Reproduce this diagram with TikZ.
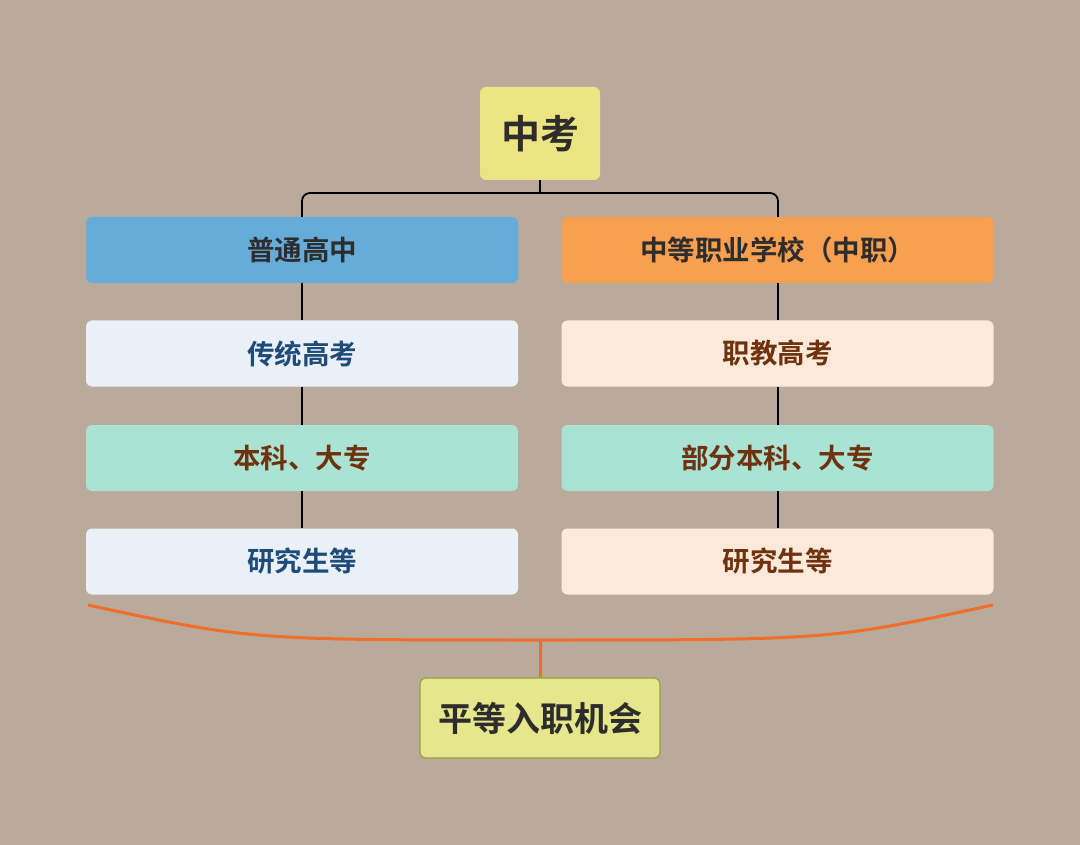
\documentclass[tikz,border=0pt]{standalone}
\usepackage{fontspec}
\setmainfont{Noto Sans CJK SC}[BoldFont={Noto Sans CJK SC Bold}]
\definecolor{bg}{RGB}{186,170,156}
\definecolor{yel}{RGB}{236,228,130}
\definecolor{blu}{RGB}{102,172,216}
\definecolor{org}{RGB}{248,160,80}
\definecolor{lblu}{RGB}{233,240,248}
\definecolor{lorg}{RGB}{253,233,218}
\definecolor{teal}{RGB}{170,226,212}
\definecolor{tblu}{RGB}{30,75,120}
\definecolor{tbrn}{RGB}{110,50,15}
\definecolor{tdark}{RGB}{45,45,45}
\definecolor{brace}{RGB}{240,110,40}
\definecolor{olive}{RGB}{150,160,60}
\definecolor{byel}{RGB}{230,230,140}
\begin{document}
\begin{tikzpicture}[x=1pt,y=-1pt,
 box/.style={rounded corners=6pt,minimum width=432pt,minimum height=66pt,inner sep=0pt,font=\fontsize{27.5}{28}\selectfont\bfseries},
 conn/.style={line width=1.8pt,black}]
\fill[bg] (0,0) rectangle (1080,845);
\node[box,fill=yel,minimum width=120pt,minimum height=93pt,text=tdark,font=\fontsize{39}{39}\selectfont\bfseries] (zk) at (540,133.5) {中考};
\node[box,fill=blu,text=tdark] (l1) at (302,250) {普通高中};
\node[box,fill=org,text=tdark] (r1) at (777.5,250) {中等职业学校（中职）};
\node[box,fill=lblu,text=tblu] (l2) at (302,353.5) {传统高考};
\node[box,fill=lorg,text=tbrn] (r2) at (777.5,353.5) {职教高考};
\node[box,fill=teal,text=tbrn] (l3) at (302,458) {本科、大专};
\node[box,fill=teal,text=tbrn] (r3) at (777.5,458) {部分本科、大专};
\node[box,fill=lblu,text=tblu] (l4) at (302,561.5) {研究生等};
\node[box,fill=lorg,text=tbrn] (r4) at (777.5,561.5) {研究生等};
\node[box,fill=byel,draw=olive,line width=1.2pt,minimum width=240pt,minimum height=80pt,text=tdark,font=\fontsize{34}{34}\selectfont\bfseries] (eq) at (540,718) {平等入职机会};
\coordinate (jn) at (540,193);
\draw[conn] (zk.south) -- (jn);
\draw[conn,rounded corners=8pt] (l1.north) -- (302,193) -- (778,193) -- (778,217);
\draw[conn] (l1) -- (l2); \draw[conn] (l2) -- (l3); \draw[conn] (l3) -- (l4);
\draw[conn] (778,283) -- (778,320); \draw[conn] (778,387) -- (778,425); \draw[conn] (778,491) -- (778,528);
\coordinate (bm) at (540,640);
\draw[brace,line width=3pt] (88,605) .. controls (250,640) .. (bm) .. controls (830,640) .. (993,605);
\draw[brace,line width=3pt] (bm) -- (eq.north);
\end{tikzpicture}
\end{document}
